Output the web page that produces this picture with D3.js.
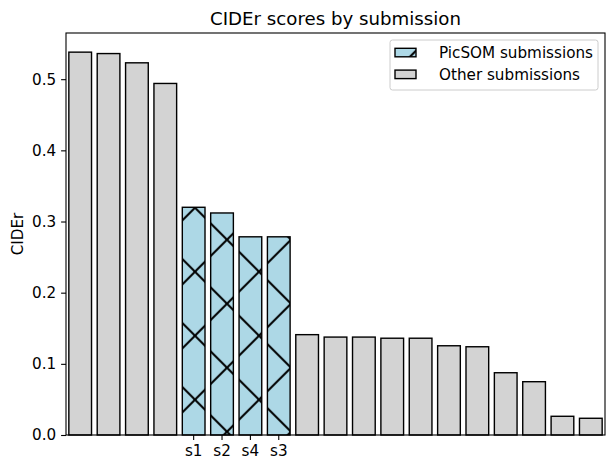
<!DOCTYPE html>
<html>
<head>
<meta charset="utf-8">
<script src="https://cdn.jsdelivr.net/npm/d3@7"></script>
<style>
  body { margin: 0; background: #fff; }
  svg { display: block; font-family: 'DejaVu Sans', sans-serif; }
</style>
</head>
<body>
<div id="chart"></div>
<script>
// submissions in ranked order, PicSOM runs are s1..s4
const submissions = ['o1', 'o2', 'o3', 'o4', 's1', 's2', 's4', 's3', 'o5', 'o6', 'o7',
  'o8', 'o9', 'o10', 'o11', 'o12', 'o13', 'o14', 'o15']
const ciderScores = [0.538, 0.536, 0.523, 0.494, 0.320, 0.312, 0.2785, 0.2785, 0.141, 0.1376,
  0.1376, 0.136, 0.136, 0.1254, 0.124, 0.0875, 0.0749, 0.0263, 0.0235]
const picsomRuns = ['s1', 's2', 's4', 's3']
const yTicks = [0, 0.1, 0.2, 0.3, 0.4, 0.5]
const legendLabels = ['PicSOM submissions', 'Other submissions']

const WIDTH = 607
const HEIGHT = 459
const LEFT = 66, RIGHT = 605, TOP = 33, BOTTOM = 435
const FONT = 15.2

const data = submissions.map((s, i) => ({ id: s, value: ciderScores[i], picsom: picsomRuns.includes(s) }))

const svg = d3.select('#chart')
  .append('svg')
  .attr('width', WIDTH)
  .attr('height', HEIGHT)

// hatch 'x' anchored to the page, like matplotlib does
const defs = svg.append('defs')
const pat = defs.append('pattern')
  .attr('id', 'hatch')
  .attr('patternUnits', 'userSpaceOnUse')
  .attr('x', 195).attr('y', 271.7)
  .attr('width', 64).attr('height', 64)
pat.append('rect').attr('width', 64).attr('height', 64).attr('fill', '#add8e6')
pat.append('path')
  .attr('d', 'M-8,-8L72,72M-8,56L8,72M56,-8L72,8M72,-8L-8,72M-8,8L8,-8M56,72L72,56')
  .attr('stroke', '#000')
  .attr('stroke-width', 2)
  .attr('fill', 'none')

const x = d3.scaleBand()
  .domain(submissions)
  .range([LEFT, RIGHT])
  .paddingInner(0.2)
  .paddingOuter(0.1)

const y = d3.scaleLinear()
  .domain([0, d3.max(ciderScores) * 1.05])
  .range([BOTTOM, TOP])

svg.selectAll('.bar')
  .data(data)
  .enter()
  .append('rect')
  .attr('class', 'bar')
  .attr('x', d => x(d.id))
  .attr('y', d => y(d.value))
  .attr('width', x.bandwidth())
  .attr('height', d => y(0) - y(d.value))
  .attr('fill', d => d.picsom ? 'url(#hatch)' : '#d3d3d3')
  .attr('stroke', '#000')
  .attr('stroke-width', 1.4)

// axes
const yAxis = svg.append('g')
  .attr('transform', `translate(${LEFT},0)`)
  .call(d3.axisLeft(y).tickValues(yTicks).tickFormat(d3.format('.1f')).tickSizeOuter(0).tickSize(4.9).tickPadding(4.9))
const xAxis = svg.append('g')
  .attr('transform', `translate(0,${BOTTOM})`)
  .call(d3.axisBottom(x).tickValues(picsomRuns).tickSizeOuter(0).tickSize(4.9).tickPadding(4.9))
;[yAxis, xAxis].forEach(g => {
  g.select('.domain').remove()
  g.selectAll('line').attr('stroke', '#000').attr('stroke-width', 1.1)
  g.selectAll('text').attr('fill', '#000').style('font-size', FONT + 'px').style('font-family', "'DejaVu Sans'")
})

// frame
svg.append('rect')
  .attr('x', LEFT).attr('y', TOP)
  .attr('width', RIGHT - LEFT).attr('height', BOTTOM - TOP)
  .attr('fill', 'none')
  .attr('stroke', '#000')
  .attr('stroke-width', 1.1)

svg.append('text')
  .attr('x', (LEFT + RIGHT) / 2)
  .attr('y', 25)
  .attr('text-anchor', 'middle')
  .style('font-size', '18.2px')
  .text('CIDEr scores by submission')

svg.append('text')
  .attr('transform', `translate(23,${(TOP + BOTTOM) / 2}) rotate(-90)`)
  .attr('text-anchor', 'middle')
  .style('font-size', FONT + 'px')
  .text('CIDEr')

// legend
const legend = svg.append('g')
legend.append('rect')
  .attr('x', 390).attr('y', 40)
  .attr('width', 208).attr('height', 50)
  .attr('rx', 2.5)
  .attr('fill', '#fff').attr('fill-opacity', 0.8)
  .attr('stroke', '#ccc')
legendLabels.forEach((label, i) => {
  const yy = 48.3 + i * 21.8
  legend.append('rect')
    .attr('x', 395).attr('y', yy)
    .attr('width', 21).attr('height', 8.5)
    .attr('fill', i === 0 ? 'url(#hatch)' : '#d3d3d3')
    .attr('stroke', '#000')
    .attr('stroke-width', 1.4)
  legend.append('text')
    .attr('x', 439)
    .attr('y', yy + 9.8)
    .style('font-size', FONT + 'px')
    .text(label)
})
</script>
</body>
</html>
